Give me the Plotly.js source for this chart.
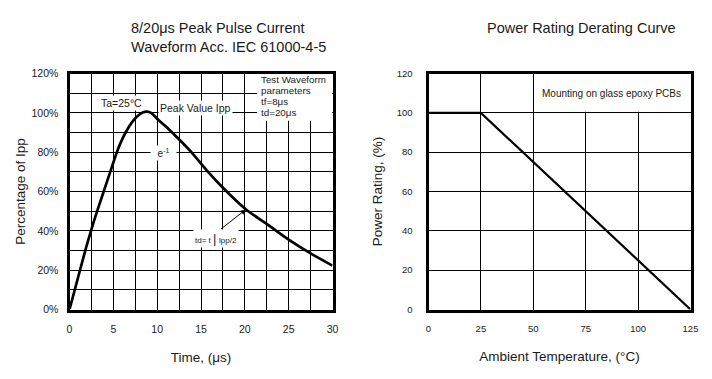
<!DOCTYPE html>
<html>
<head>
<meta charset="utf-8">
<script src="https://cdn.plot.ly/plotly-3.0.1.min.js"></script>
<style>html,body{margin:0;padding:0;background:#fff;}#chart{width:712px;height:379px;}</style>
</head>
<body>
<div id="chart"></div>
<script>
// Left chart: 8/20us pulse waveform (time in us, percentage of Ipp)
const pulseTime = [0, 0.6, 1.2, 1.8, 2.45, 3.15, 3.9, 4.65, 5.4, 5.85, 6.4, 7.1, 7.8, 8.4, 8.8, 9.3, 10, 11, 12, 13, 13.9, 15.7, 17.7, 20.1, 22.5, 25, 27.5, 30];
const pulsePct  = [0, 10, 20, 30, 40, 50, 60, 70, 80, 85, 90, 95, 98.5, 100.3, 100.6, 100, 97, 93, 88.7, 84.3, 80, 70.5, 61, 51, 43.5, 35.5, 28.5, 22.3];
// Right chart: derating curve
const ambientTemp = [0, 25, 125];
const powerRating = [100, 100, 0];
// Tick labels / values (blank entries = grid line without label)
const timeGridVals = [0, 2.5, 5, 7.5, 10, 12.5, 15, 17.5, 20, 22.5, 25, 27.5, 30];
const timeTickText = ['0', '', '5', '', '10', '', '15', '', '20', '', '25', '', '30'];
const pctGridVals  = [0, 10, 20, 30, 40, 50, 60, 70, 80, 90, 100, 110, 120];
const pctTickText  = ['0%', '', '20%', '', '40%', '', '60%', '', '80%', '', '100%', '', '120%'];
const tempTicks = [0, 25, 50, 75, 100, 125];
const ratingTicks = [0, 20, 40, 60, 80, 100, 120];

const FONT = 'Arial, "Liberation Sans", sans-serif';
const TXT = '#1a1a1a';

const traces = [
  {x: pulseTime, y: pulsePct, type: 'scatter', mode: 'lines', xaxis: 'x', yaxis: 'y',
   line: {color: '#000', width: 2.7, shape: 'spline', smoothing: 0.8}, hoverinfo: 'skip'},
  {x: ambientTemp, y: powerRating, type: 'scatter', mode: 'lines', xaxis: 'x2', yaxis: 'y2',
   line: {color: '#000', width: 2.2}, hoverinfo: 'skip'}
];

const W = 712, H = 379;
const axBase = {
  showline: true, mirror: true, linecolor: '#000', linewidth: 3,
  showgrid: true, gridcolor: '#000', gridwidth: 1, zeroline: false,
  ticks: '', fixedrange: true, automargin: false,
  tickfont: {family: FONT, size: 10.5, color: TXT}
};
function arr(vals, text) {
  return {tickmode: 'array', tickvals: vals, ticktext: text || vals.map(String),
          range: [vals[0], vals[vals.length - 1]]};
}

const layout = {
  width: W, height: H,
  margin: {l: 0, r: 0, t: 0, b: 0},
  paper_bgcolor: '#fff', plot_bgcolor: '#fff',
  showlegend: false,
  font: {family: FONT, color: TXT},
  xaxis: Object.assign({}, axBase, arr(timeGridVals, timeTickText), {
    domain: [69.5/W, 332.5/W],
    ticklabelstandoff: 8,
    title: {text: 'Time, (μs)', font: {family: FONT, size: 13.5, color: TXT}, standoff: 19}
  }),
  yaxis: Object.assign({}, axBase, arr(pctGridVals, pctTickText), {
    domain: [1 - 309.5/H, 1 - 73.5/H],
    ticklabelstandoff: 6,
    title: {text: 'Percentage of Ipp', font: {family: FONT, size: 13.5, color: TXT}, standoff: 3}
  }),
  xaxis2: Object.assign({}, axBase, arr(tempTicks), {
    anchor: 'y2', domain: [428.5/W, 690.5/W],
    ticklabelstandoff: 8, tickfont: {family: FONT, size: 9.5, color: TXT},
    title: {text: 'Ambient Temperature, (°C)', font: {family: FONT, size: 13.5, color: TXT}, standoff: 19}
  }),
  yaxis2: Object.assign({}, axBase, arr(ratingTicks), {
    anchor: 'x2', domain: [1 - 309.5/H, 1 - 73.5/H],
    ticklabelstandoff: 11, tickfont: {family: FONT, size: 9.5, color: TXT},
    title: {text: 'Power Rating, (%)', font: {family: FONT, size: 13.5, color: TXT}, standoff: 12}
  }),
  shapes: [
    // white panel behind "Test Waveform parameters"
    {type: 'rect', xref: 'x', yref: 'y', x0: 21.4, x1: 30, y0: 96, y1: 120, layer: 'between',
     fillcolor: '#fff', line: {width: 0}},
    // white panel behind "Mounting on glass epoxy PCBs"
    {type: 'rect', xref: 'x2', yref: 'y2', x0: 50.6, x1: 125, y0: 100.5, y1: 120, layer: 'between',
     fillcolor: '#fff', line: {width: 0}}
  ],
  annotations: [
    {xref: 'paper', yref: 'paper', x: 129/W, y: 1 - 37/H, xanchor: 'left', yanchor: 'middle', align: 'left',
     showarrow: false, text: '8/20μs Peak Pulse Current<br>Waveform Acc. IEC 61000-4-5',
     font: {family: FONT, size: 14.5, color: TXT}},
    {xref: 'paper', yref: 'paper', x: 581/W, y: 1 - 28/H, xanchor: 'center', yanchor: 'middle',
     showarrow: false, text: 'Power Rating Derating Curve', font: {family: FONT, size: 14.5, color: TXT}},
    {xref: 'x', yref: 'y', x: 5.97, y: 105.1, showarrow: false, text: 'Ta=25°C', bgcolor: '#fff', borderpad: 1,
     font: {family: FONT, size: 10.5, color: TXT}},
    {xref: 'x', yref: 'y', x: 14.4, y: 102.3, showarrow: false, text: 'Peak Value Ipp', bgcolor: '#fff', borderpad: 1,
     font: {family: FONT, size: 10.5, color: TXT}},
    {xref: 'x', yref: 'y', x: 10.7, y: 79.5, showarrow: false, text: '  e<sup>-1</sup>  ', bgcolor: '#fff', borderpad: 1,
     font: {family: FONT, size: 10, color: TXT}},
    {xref: 'x', yref: 'y', x: 21.6, y: 117.2, xanchor: 'left', showarrow: false, text: 'Test Waveform',
     font: {family: FONT, size: 9.8, color: TXT}},
    {xref: 'x', yref: 'y', x: 21.6, y: 111.6, xanchor: 'left', showarrow: false, text: 'parameters',
     font: {family: FONT, size: 9.8, color: TXT}},
    {xref: 'x', yref: 'y', x: 21.6, y: 106.0, xanchor: 'left', showarrow: false, text: 'tf=8μs',
     font: {family: FONT, size: 9.8, color: TXT}},
    {xref: 'x', yref: 'y', x: 21.6, y: 100.4, xanchor: 'left', showarrow: false, text: 'td=20μs',
     font: {family: FONT, size: 9.8, color: TXT}},
    {xref: 'x', yref: 'y', x: 16.7, y: 36, showarrow: false, bgcolor: '#fff', borderpad: 1,
     text: 'td= t <span style="font-size:13px">|</span> Ipp/2',
     font: {family: FONT, size: 8, color: TXT}},
    {xref: 'x', yref: 'y', axref: 'x', ayref: 'y', x: 20.1, y: 50.8, ax: 17.1, ay: 40.3, text: '',
     showarrow: true, arrowhead: 2, arrowsize: 1, arrowwidth: 1, arrowcolor: '#000', standoff: 0, startstandoff: 0},
    {xref: 'x2', yref: 'y2', x: 87.3, y: 109.6, showarrow: false, text: 'Mounting on glass epoxy PCBs',
     font: {family: FONT, size: 10, color: TXT}}
  ]
};

Plotly.newPlot('chart', traces, layout, {staticPlot: true, displayModeBar: false});
</script>
</body>
</html>
